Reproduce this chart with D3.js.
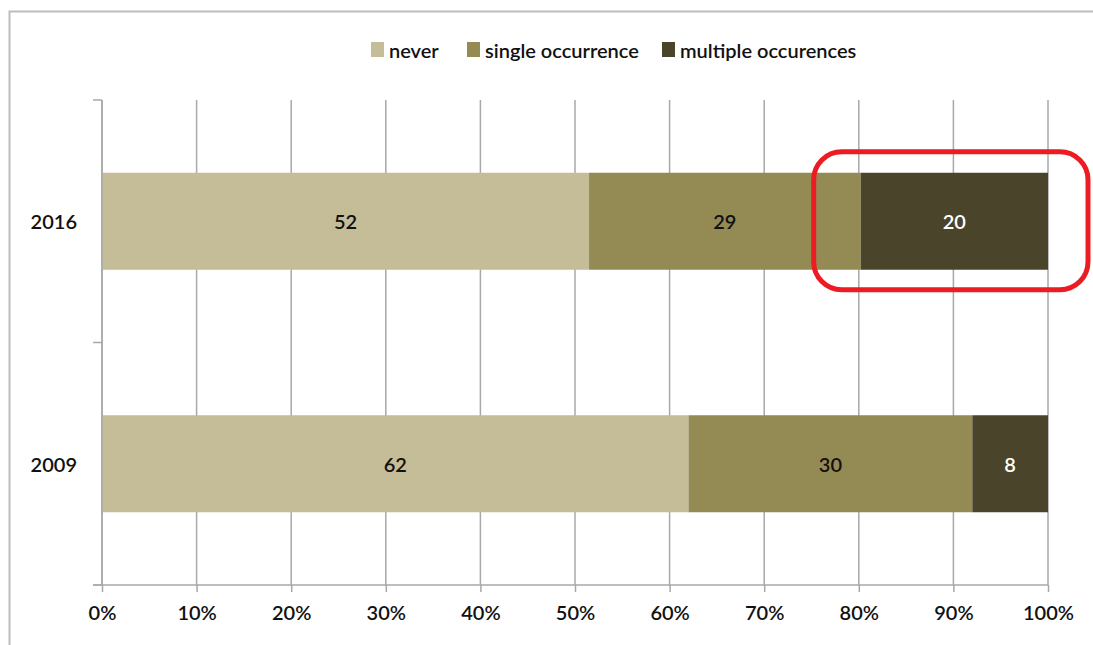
<!DOCTYPE html>
<html>
<head>
<meta charset="utf-8">
<script src="https://cdn.jsdelivr.net/npm/d3@7"></script>
<style>
  html, body { margin: 0; padding: 0; background: #fff; }
  svg { display: block; font-family: Lato, "Open Sans", sans-serif; }
  text { font-weight: 600; }
</style>
</head>
<body>
<svg id="chart" width="1093" height="645"></svg>
<script>
const categories = ["2016", "2009"];
const seriesNames = ["never", "single occurrence", "multiple occurences"];
const never = [52, 62];
const single = [29, 30];
const multiple = [20, 8];
const xTickValues = [0, 10, 20, 30, 40, 50, 60, 70, 80, 90, 100];
const colors = ["#C4BD97", "#948A54", "#4A452A"];
const labelColors = ["#111", "#111", "#fff"];
const highlight = { category: "2016", series: "multiple occurences" };

const svg = d3.select("#chart");

// outer frame
svg.append("rect").attr("x", 9.5).attr("y", 11.5).attr("width", 1200).attr("height", 800)
  .attr("fill", "none").attr("stroke", "#BDBDBD").attr("stroke-width", 2);

const x = d3.scaleLinear().domain([0, 100]).range([102, 1048]);
const y = d3.scaleBand().domain(categories).range([100, 585]).paddingInner(0.6).paddingOuter(0.3);

// data rows, normalised to 100%
const rows = categories.map((c, i) => {
  const vals = [never[i], single[i], multiple[i]];
  const total = d3.sum(vals);
  const obj = { category: c, raw: vals };
  seriesNames.forEach((s, j) => obj[s] = vals[j] / total * 100);
  return obj;
});
const stack = d3.stack().keys(seriesNames)(rows);

// gridlines
svg.append("g").selectAll("line").data(xTickValues).join("line")
  .attr("x1", d => x(d)).attr("x2", d => x(d))
  .attr("y1", 100).attr("y2", 585)
  .attr("stroke", "#A8A8A8").attr("stroke-width", 1.5);

// bars
const segs = svg.append("g").selectAll("g").data(stack).join("g")
  .attr("fill", (d, i) => colors[i]);
segs.selectAll("rect").data(d => d.map(v => ({ v, key: d.key, idx: d.index }))).join("rect")
  .attr("x", d => x(d.v[0]))
  .attr("width", d => x(d.v[1]) - x(d.v[0]))
  .attr("y", d => y(d.v.data.category))
  .attr("height", y.bandwidth());

// value labels
stack.forEach((layer, j) => {
  svg.append("g").selectAll("text").data(layer).join("text")
    .attr("x", d => (x(d[0]) + x(d[1])) / 2)
    .attr("y", d => y(d.data.category) + y.bandwidth() / 2)
    .attr("text-anchor", "middle").attr("dominant-baseline", "central")
    .attr("font-size", 20).attr("fill", labelColors[j])
    .text(d => d.data.raw[j]);
});

// x axis
const xAxis = d3.axisBottom(x).tickValues(xTickValues).tickFormat(d => d + "%").tickSize(7).tickPadding(14);
const gx = svg.append("g").attr("transform", "translate(0,585)").call(xAxis);
gx.select(".domain").attr("stroke", "#A8A8A8").attr("stroke-width", 1.5).attr("d", "M93,0H" + x(100));
gx.selectAll(".tick line").attr("stroke", "#A8A8A8").attr("stroke-width", 1.5);
gx.selectAll(".tick text").attr("font-size", 20).attr("fill", "#111").attr("font-family", "Lato, sans-serif");

// y axis
const step = y.step();
const yBounds = [0, 1, 2].map(i => y.range()[0] + i * step);
svg.append("line").attr("x1", x(0)).attr("x2", x(0)).attr("y1", 100).attr("y2", 585)
  .attr("stroke", "#A8A8A8").attr("stroke-width", 1.5);
svg.append("g").selectAll("line").data(yBounds).join("line")
  .attr("x1", x(0) - 9).attr("x2", x(0)).attr("y1", d => d).attr("y2", d => d)
  .attr("stroke", "#A8A8A8").attr("stroke-width", 1.5);
svg.append("g").selectAll("text").data(categories).join("text")
  .attr("x", 77).attr("y", d => y(d) + y.bandwidth() / 2)
  .attr("text-anchor", "end").attr("dominant-baseline", "central")
  .attr("font-size", 20).attr("fill", "#111").text(d => d);

// legend
const legendX = [371, 467, 662];
const lg = svg.append("g").selectAll("g").data(seriesNames).join("g")
  .attr("transform", (d, i) => `translate(${legendX[i]},42)`);
lg.append("rect").attr("width", 13).attr("height", 15).attr("fill", (d, i) => colors[i]);
lg.append("text").attr("x", 18).attr("y", 7.5).attr("dominant-baseline", "central")
  .attr("font-size", 20).attr("fill", "#111").text(d => d);

// highlight annotation
const hi = stack.find(l => l.key === highlight.series).find(d => d.data.category === highlight.category);
const hx0 = x(hi[0]) - 47, hx1 = x(hi[1]) + 40;
const hy0 = y(highlight.category) - 21, hy1 = y(highlight.category) + y.bandwidth() + 20;
svg.append("rect").attr("x", hx0).attr("y", hy0).attr("width", hx1 - hx0).attr("height", hy1 - hy0)
  .attr("rx", 28).attr("ry", 28)
  .attr("fill", "none").attr("stroke", "#EC1C24").attr("stroke-width", 5);
</script>
</body>
</html>
